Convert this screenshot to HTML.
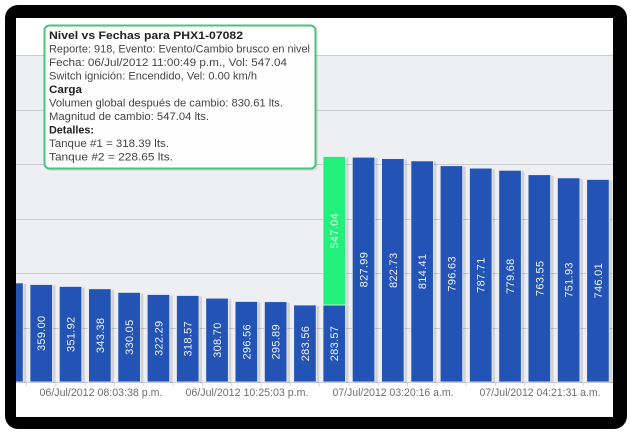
<!DOCTYPE html>
<html><head><meta charset="utf-8"><style>
html,body{margin:0;padding:0;background:#fff;}
svg{display:block;}
text{font-family:"Liberation Sans",sans-serif;}
</style></head><body>
<svg width="630" height="435" viewBox="0 0 630 435" xmlns="http://www.w3.org/2000/svg">
<defs>
<clipPath id="pc"><rect x="16" y="18" width="597" height="399"/></clipPath>
</defs>
<rect x="0" y="0" width="630" height="435" fill="#fff"/>
<rect x="5" y="5" width="622" height="424" rx="13" fill="#000"/>
<rect x="16" y="18" width="597" height="399" fill="#fff"/>
<g clip-path="url(#pc)">
<rect x="16" y="55" width="597" height="327" fill="#edeff2"/>
<g stroke="#c9cbce" stroke-width="1">
<line x1="16" y1="55.5" x2="613" y2="55.5"/>
<line x1="16" y1="110.5" x2="613" y2="110.5"/>
<line x1="16" y1="164.5" x2="613" y2="164.5"/>
<line x1="16" y1="219.5" x2="613" y2="219.5"/>
<line x1="16" y1="273.5" x2="613" y2="273.5"/>
<line x1="16" y1="328.5" x2="613" y2="328.5"/>
</g>
<line x1="16" y1="382.5" x2="613" y2="382.5" stroke="#c8ccd2"/>
<g id="bars"></g>
</g>
<!-- tooltip -->
<rect x="46" y="27" width="272" height="144" rx="5" fill="#000" opacity="0.08"/>
<rect x="44.5" y="25.5" width="271" height="143" rx="5" fill="#fff" fill-opacity="0.96" stroke="#45c47a" stroke-width="2"/>
<g fill="#444" font-size="11">
<text x="49" y="39" font-weight="bold" fill="#222" textLength="194" lengthAdjust="spacingAndGlyphs">Nivel vs Fechas para PHX1-07082</text>
<text x="49" y="52.5" textLength="261" lengthAdjust="spacingAndGlyphs">Reporte: 918, Evento: Evento/Cambio brusco en nivel</text>
<text x="49" y="66" textLength="238" lengthAdjust="spacingAndGlyphs">Fecha: 06/Jul/2012 11:00:49 p.m., Vol: 547.04</text>
<text x="49" y="79.5" textLength="208" lengthAdjust="spacingAndGlyphs">Switch ignición: Encendido, Vel: 0.00 km/h</text>
<text x="49" y="93" font-weight="bold" fill="#222" textLength="33" lengthAdjust="spacingAndGlyphs">Carga</text>
<text x="49" y="106.5" textLength="234" lengthAdjust="spacingAndGlyphs">Volumen global después de cambio: 830.61 lts.</text>
<text x="49" y="120" textLength="160" lengthAdjust="spacingAndGlyphs">Magnitud de cambio: 547.04 lts.</text>
<text x="49" y="133.5" font-weight="bold" fill="#222" textLength="45" lengthAdjust="spacingAndGlyphs">Detalles:</text>
<text x="49" y="147" textLength="120" lengthAdjust="spacingAndGlyphs">Tanque #1 = 318.39 lts.</text>
<text x="49" y="160.5" textLength="124" lengthAdjust="spacingAndGlyphs">Tanque #2 = 228.65 lts.</text>
</g>
<!-- x labels -->
<g fill="#6e6e6e" font-size="11" text-anchor="middle">
<text x="101" y="396" textLength="123" lengthAdjust="spacingAndGlyphs">06/Jul/2012 08:03:38 p.m.</text>
<text x="247" y="396" textLength="123" lengthAdjust="spacingAndGlyphs">06/Jul/2012 10:25:03 p.m.</text>
<text x="393" y="396" textLength="121" lengthAdjust="spacingAndGlyphs">07/Jul/2012 03:20:16 a.m.</text>
<text x="540" y="396" textLength="121" lengthAdjust="spacingAndGlyphs">07/Jul/2012 04:21:31 a.m.</text>
</g>
</svg>
<script>
(function(){
var vals=[365,359.00,351.92,343.38,330.05,322.29,318.57,308.70,296.56,295.89,283.56,283.57,827.99,822.73,814.41,796.63,787.71,779.68,763.55,751.93,746.01];
var k=0.2715,base=382,pitch=29.3,w=22.5;
var g=document.getElementById('bars');var ns='http://www.w3.org/2000/svg';
function el(n,a,p){var e=document.createElementNS(ns,n);for(var q in a)e.setAttribute(q,a[q]);(p||g).appendChild(e);return e;}
for(var i=0;i<vals.length;i++){
 var x=30+(i-1)*pitch;var v=vals[i];var top=base-v*k;
 el('line',{x1:x-3.4,y1:382,x2:x-3.4,y2:386,stroke:'#d0d6de'});
 el('rect',{x:x+1,y:top+1,width:w+2,height:base-top,fill:'#000',opacity:0.12});
 el('rect',{x:x,y:top,width:w,height:base-top,fill:'#2354b5',stroke:'#e8ecf2','stroke-width':0.8});
 if(i===11){
  var gt=base-830.61*k;
  el('rect',{x:x+1,y:gt+1,width:w+2,height:top-gt,fill:'#000',opacity:0.1});
  el('rect',{x:x,y:gt,width:w,height:top-gt,fill:'#22f07a',stroke:'#e8f5ee','stroke-width':0.8});
  var cy2=(gt+top)/2;
  var t2=el('text',{x:x+w/2,y:cy2+4,'font-size':11,fill:'#f2fff6','text-anchor':'middle','letter-spacing':'0.3',transform:'rotate(-90 '+(x+w/2)+' '+cy2+')'});
  t2.textContent='547.04';
 }
 if(i>0){
  var cy=(top+base)/2;
  var t=el('text',{x:x+w/2,y:cy+4,'font-size':11,fill:'#eef2fa','text-anchor':'middle','letter-spacing':'0.3',transform:'rotate(-90 '+(x+w/2)+' '+cy+')'});
  t.textContent=v.toFixed(2);
 }
}
})();
</script>
</body></html>
